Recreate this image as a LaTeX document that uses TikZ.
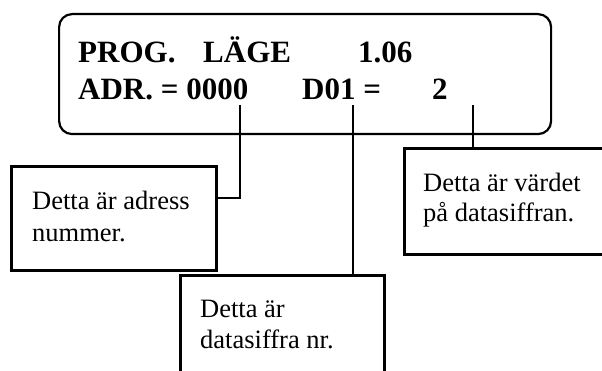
\documentclass[tikz,border=0pt]{standalone}
\usepackage{fontspec}
\setmainfont{Liberation Serif}
\begin{document}
\begin{tikzpicture}[x=1pt,y=-1pt,
  disp/.style={font=\fontsize{31}{37}\selectfont\bfseries, anchor=base west, inner sep=0pt},
  lbl/.style={font=\fontsize{26.5}{31}\selectfont, anchor=base west, inner sep=0pt},
  box/.style={draw, line width=2.8pt, rectangle, inner sep=0pt, anchor=north west},
  wire/.style={line width=2.8pt}]
\useasboundingbox (0,0) rectangle (602,371);
\clip (0,0) rectangle (602,371);
% display
\node[draw, line width=2.2pt, rounded corners=13pt, minimum width=492pt, minimum height=120pt, anchor=north west, inner sep=0pt] (lcd) at (58,13) {};
\node[disp] (t1) at (78,63) {PROG.};
\node[disp] (t2) at (203,63) {LÄGE};
\node[disp] (t3) at (358,63) {1.06};
\node[disp] (t4) at (78,100) {ADR. = 0000};
\node[disp] (t5) at (302,100) {D01 =};
\node[disp] (t6) at (432,100) {2};
% boxes
\node[box, minimum width=205pt, minimum height=104pt] (lbox) at (10,165) {};
\node[box, minimum width=204pt, minimum height=130pt] (bbox) at (179,274) {};
\node[box, minimum width=240pt, minimum height=106pt] (rbox) at (403,147) {};
% box texts
\node[lbl] (l1) at (32,210) {Detta är adress};
\node[lbl] (l2) at (32,242) {nummer.};
\node[lbl] (b1) at (200,317) {Detta är};
\node[lbl] (b2) at (200,348) {datasiffra nr.};
\node[lbl] (r1) at (423,192) {Detta är värdet};
\node[lbl] (r2) at (423,222) {på datasiffran.};
% connectors
\coordinate (p1) at (240,105);
\coordinate (k1) at (240,198);
\coordinate (p2) at (353,105);
\coordinate (p3) at (473,105);
\draw[wire] (p1) -- (k1) -- (k1 -| lbox.east);
\draw[wire] (p2) -- (p2 |- bbox.north);
\draw[wire] (p3) -- (p3 |- rbox.north);
\end{tikzpicture}
\end{document}
